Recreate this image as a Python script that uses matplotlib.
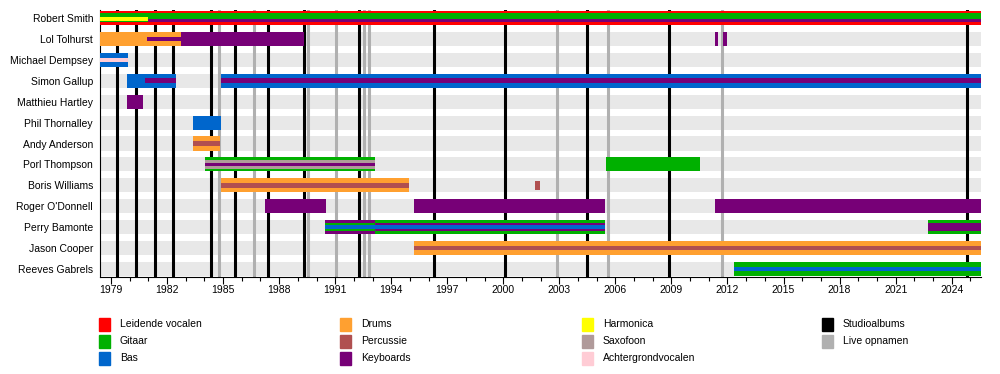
import matplotlib
matplotlib.use("Agg")
import matplotlib.pyplot as plt
from matplotlib.patches import Rectangle

plt.rcParams["font.family"] = ["Liberation Sans", "DejaVu Sans"]

START = 1978.41
END = 2025.57

members = [
    "Robert Smith", "Lol Tolhurst", "Michael Dempsey", "Simon Gallup",
    "Matthieu Hartley", "Phil Thornalley", "Andy Anderson", "Porl Thompson",
    "Boris Williams", "Roger O'Donnell", "Perry Bamonte", "Jason Cooper",
    "Reeves Gabrels",
]

colors = {
    "Leidende vocalen": "#ff0000",
    "Gitaar": "#00b000",
    "Bas": "#0066cc",
    "Drums": "#ffa030",
    "Percussie": "#b05050",
    "Keyboards": "#770077",
    "Harmonica": "#ffff00",
    "Saxofoon": "#b09a9a",
    "Achtergrondvocalen": "#ffccd5",
    "Studioalbums": "#000000",
    "Live opnamen": "#b0b0b0",
}

legend_order = [
    "Leidende vocalen", "Gitaar", "Bas",
    "Drums", "Percussie", "Keyboards",
    "Harmonica", "Saxofoon", "Achtergrondvocalen",
    "Studioalbums", "Live opnamen",
]

# (member, instrument, from, till, layer)  layer 0 = full bar, higher = thinner stripe
spans = [
    ("Robert Smith", "Leidende vocalen", START, END, 0),
    ("Robert Smith", "Gitaar", START, END, 1),
    ("Robert Smith", "Harmonica", START, 1981.0, 2),
    ("Robert Smith", "Keyboards", 1981.0, END, 3),
    ("Lol Tolhurst", "Drums", START, 1982.73, 0),
    ("Lol Tolhurst", "Keyboards", 1980.93, 1982.73, 2),
    ("Lol Tolhurst", "Keyboards", 1982.73, 1989.35, 0),
    ("Lol Tolhurst", "Keyboards", 2011.31, 2011.47, 0),
    ("Lol Tolhurst", "Keyboards", 2011.74, 2011.96, 0),
    ("Michael Dempsey", "Bas", START, 1979.91, 0),
    ("Michael Dempsey", "Achtergrondvocalen", START, 1979.91, 2),
    ("Simon Gallup", "Bas", 1979.87, 1982.49, 0),
    ("Simon Gallup", "Keyboards", 1980.82, 1982.49, 2),
    ("Simon Gallup", "Bas", 1984.88, END, 0),
    ("Simon Gallup", "Keyboards", 1984.88, END, 2),
    ("Matthieu Hartley", "Keyboards", 1979.87, 1980.71, 0),
    ("Phil Thornalley", "Bas", 1983.39, 1984.88, 0),
    ("Andy Anderson", "Drums", 1983.39, 1984.84, 0),
    ("Andy Anderson", "Percussie", 1983.39, 1984.84, 2),
    ("Porl Thompson", "Gitaar", 1984.04, 1993.13, 0),
    ("Porl Thompson", "Saxofoon", 1984.04, 1993.13, 1),
    ("Porl Thompson", "Keyboards", 1984.04, 1993.13, 3),
    ("Porl Thompson", "Gitaar", 2005.47, 2010.51, 0),
    ("Boris Williams", "Drums", 1984.88, 1994.97, 0),
    ("Boris Williams", "Percussie", 1984.88, 1994.97, 2),
    ("Boris Williams", "Percussie", 2001.67, 2001.94, 1),
    ("Roger O'Donnell", "Keyboards", 1987.25, 1990.49, 0),
    ("Roger O'Donnell", "Keyboards", 1995.24, 2005.42, 0),
    ("Roger O'Donnell", "Keyboards", 2011.31, END, 0),
    ("Perry Bamonte", "Keyboards", 1990.47, 1993.13, 0),
    ("Perry Bamonte", "Gitaar", 1990.47, 1993.13, 1),
    ("Perry Bamonte", "Bas", 1990.47, 1993.13, 2),
    ("Perry Bamonte", "Gitaar", 1993.13, 2005.42, 0),
    ("Perry Bamonte", "Keyboards", 1993.13, 2005.42, 1),
    ("Perry Bamonte", "Bas", 1993.13, 2005.42, 2),
    ("Perry Bamonte", "Gitaar", 2022.73, END, 0),
    ("Perry Bamonte", "Keyboards", 2022.73, END, 1),
    ("Jason Cooper", "Drums", 1995.24, END, 0),
    ("Jason Cooper", "Percussie", 1995.24, END, 2),
    ("Reeves Gabrels", "Gitaar", 2012.33, END, 0),
    ("Reeves Gabrels", "Bas", 2012.33, END, 2),
]

studio_albums = [1979.32, 1980.34, 1981.36, 1982.32, 1984.36, 1985.65, 1987.41,
                 1989.34, 1992.29, 1996.31, 2000.11, 2004.46, 2008.85, 2024.82]
live_albums = [1984.79, 1986.66, 1989.56, 1991.06, 1992.56, 1992.83, 2002.9,
               2005.58, 2011.7]

major_years = list(range(1979, 2025, 3))
minor_years = list(range(1979, 2026))

# layout (pixels -> fractions)
W, H = 1000, 374
row_px = 20.92
layer_px = [14, 8.4, 4.5, 2.4]
layer_h = [p / row_px for p in layer_px]
# vertical nudges (px, downward) for stripes that are not centred
shift_px = {
    ("Robert Smith", "Gitaar"): -0.5,
    ("Robert Smith", "Harmonica"): 1.0,
    ("Robert Smith", "Keyboards"): 2.5,
}

fig = plt.figure(figsize=(W / 100, H / 100), dpi=100)
ax = fig.add_axes([100 / W, 1 - 277 / H, 881 / W, 267 / H])

n = len(members)
ypos = {m: i for i, m in enumerate(members)}

# row background stripes
for i in range(n):
    ax.barh(i, END - START, left=START, height=layer_h[0], color="#e8e8e8",
            linewidth=0, zorder=1)

for x in live_albums:
    ax.axvline(x, color=colors["Live opnamen"], lw=2.2, zorder=2)
for x in studio_albums:
    ax.axvline(x, color=colors["Studioalbums"], lw=2.2, zorder=2)

for member, instr, a, b, layer in spans:
    dy = shift_px.get((member, instr), 0) / row_px
    ax.barh(ypos[member] + dy, b - a, left=a, height=layer_h[layer],
            color=colors[instr], linewidth=0, zorder=3 + layer)

ax.set_xlim(START, END)
ax.set_ylim(n - 1 + 0.38, -0.38)
ax.set_yticks(range(n))
ax.set_yticklabels(members)
ax.tick_params(axis="y", length=0, pad=5, labelsize=7.5)
ax.set_xticks(major_years)
ax.set_xticks(minor_years, minor=True)
ax.tick_params(axis="x", which="major", length=5, width=0.8, labelsize=7.5, pad=0.5)
ax.tick_params(axis="x", which="minor", length=3, width=0.8)
for side in ("top", "right"):
    ax.spines[side].set_visible(False)
for side in ("left", "bottom"):
    ax.spines[side].set_linewidth(0.8)

# legend
col_x = [99, 340, 582, 822]
row_y = [324, 341, 358]
for k, name in enumerate(legend_order):
    c, r = divmod(k, 3)
    x0, yc = col_x[c], row_y[r]
    fig.patches.append(Rectangle((x0 / W, 1 - (yc + 6.5) / H), 11 / W, 13 / H,
                                 transform=fig.transFigure, color=colors[name]))
    fig.text((x0 + 21) / W, 1 - yc / H, name, fontsize=7.5, va="center", ha="left")

fig.savefig("out.png", dpi=100)
